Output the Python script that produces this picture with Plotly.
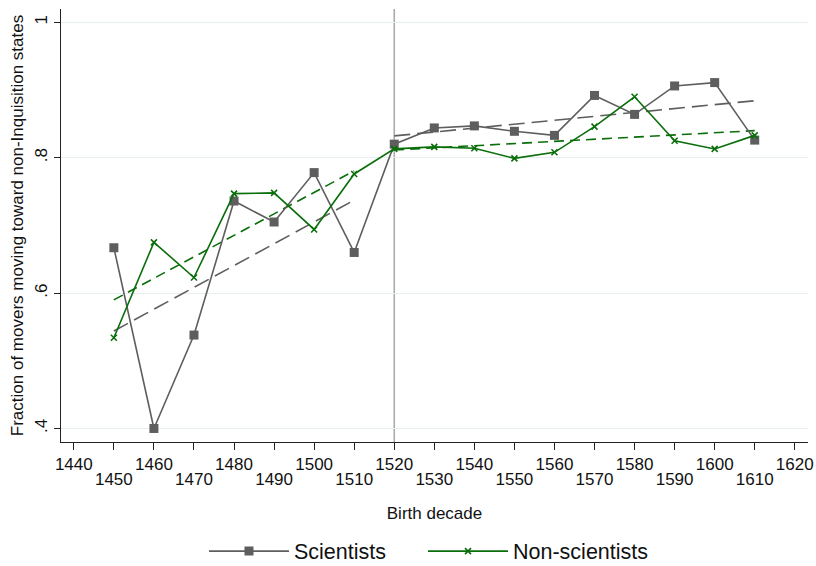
import numpy as np
import plotly.graph_objects as go

decades = [1450, 1460, 1470, 1480, 1490, 1500, 1510, 1520, 1530, 1540,
           1550, 1560, 1570, 1580, 1590, 1600, 1610]
scientists = [0.667, 0.400, 0.538, 0.736, 0.705, 0.778, 0.660, 0.820, 0.844, 0.847,
              0.839, 0.833, 0.892, 0.864, 0.906, 0.911, 0.826]
non_scientists = [0.534, 0.675, 0.623, 0.747, 0.748, 0.694, 0.776, 0.813, 0.816, 0.814,
                  0.799, 0.808, 0.846, 0.890, 0.825, 0.813, 0.833]
cutoff = 1520
y_ticks = [0.4, 0.6, 0.8, 1.0]
y_ticklabels = [".4", ".6", ".8", "1"]
x_major = [1440, 1460, 1480, 1500, 1520, 1540, 1560, 1580, 1600, 1620]
x_minor = [1450, 1470, 1490, 1510, 1530, 1550, 1570, 1590, 1610]

GRAY = "#5e5e5e"
GREEN = "#0a6e0a"
FONT = "Liberation Sans, Arial, Helvetica, sans-serif"

x = np.array(decades, dtype=float)
s = np.array(scientists)
n = np.array(non_scientists)


def fit(xs, ys):
    b, a = np.polyfit(xs, ys, 1)
    xx = np.array([xs.min(), xs.max()])
    return xx, a + b * xx


fig = go.Figure()

# linear fits before / after cutoff
for mask in (x < cutoff, x >= cutoff):
    fx, fy = fit(x[mask], s[mask])
    fig.add_trace(go.Scatter(x=fx, y=fy, mode="lines", showlegend=False,
                             line=dict(color=GRAY, width=1.6, dash="16px,7px"),
                             hoverinfo="skip"))
    fx, fy = fit(x[mask], n[mask])
    fig.add_trace(go.Scatter(x=fx, y=fy, mode="lines", showlegend=False,
                             line=dict(color=GREEN, width=1.6, dash="10px,6px"),
                             hoverinfo="skip"))

fig.add_trace(go.Scatter(x=decades, y=scientists, mode="lines+markers", name="Scientists",
                         line=dict(color=GRAY, width=1.6), legend="legend",
                         marker=dict(symbol="square", size=9, color=GRAY)))
fig.add_trace(go.Scatter(x=decades, y=non_scientists, mode="lines+markers", name="Non-scientists",
                         line=dict(color=GREEN, width=1.6), legend="legend2",
                         marker=dict(symbol="x-thin", size=6, color=GREEN,
                                     line=dict(color=GREEN, width=1.6))))

fig.add_vline(x=cutoff, line=dict(color="#ababab", width=1.6), layer="below")

x_range = [1436.8, 1623.3]
legend_style = dict(orientation="h", xanchor="left", y=-0.252, yanchor="middle",
                    font=dict(size=21.5), itemwidth=80, bgcolor="rgba(0,0,0,0)")
fig.update_layout(
    width=816, height=566,
    margin=dict(l=61, r=8, t=9, b=124, autoexpand=False),
    paper_bgcolor="white", plot_bgcolor="white",
    font=dict(family=FONT, size=16, color="#111111"),
    xaxis=dict(
        range=x_range, automargin=False,
        tickvals=x_major + x_minor,
        ticktext=[str(v) for v in x_major] + ["" for v in x_minor],
        ticks="outside", ticklen=7, tickwidth=1, tickcolor="#222",
        showline=True, linecolor="#222", linewidth=1,
        showgrid=False, zeroline=False,
        tickfont=dict(size=17),
        title=dict(text="Birth decade", font=dict(size=17), standoff=33),
    ),
    xaxis2=dict(
        range=x_range, overlaying="x", anchor="y", side="bottom", automargin=False,
        tickvals=x_minor, ticktext=[str(v) for v in x_minor],
        ticks="", showline=False, showgrid=False, zeroline=False,
        tickfont=dict(size=17), ticklabelstandoff=25,
    ),
    yaxis=dict(
        range=[0.38, 1.0197], automargin=False,
        tickvals=y_ticks, ticktext=y_ticklabels, tickangle=-90,
        ticks="outside", ticklen=6, tickwidth=1, tickcolor="#222",
        showline=True, linecolor="#222", linewidth=1,
        showgrid=True, gridcolor="#e6eef1", gridwidth=1.2,
        zeroline=False, tickfont=dict(size=17),
        title=dict(text="Fraction of movers moving toward non-Inquisition states",
                   font=dict(size=17), standoff=4),
    ),
    legend=dict(x=(204 - 61) / 747, **legend_style),
    legend2=dict(x=(423 - 61) / 747, **legend_style),
    showlegend=True,
)
# invisible trace to activate xaxis2
fig.add_trace(go.Scatter(x=[x_range[0]], y=[None], xaxis="x2", showlegend=False,
                         hoverinfo="skip", mode="markers"))

fig.write_html("out.html")
